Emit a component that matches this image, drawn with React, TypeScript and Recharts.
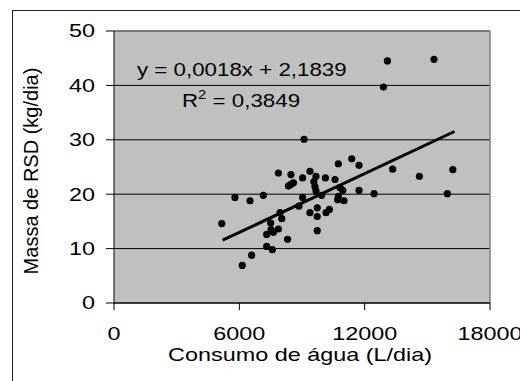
import React from 'react';
import {
  ScatterChart,
  Scatter,
  XAxis,
  YAxis,
  CartesianGrid,
  ReferenceLine,
} from 'recharts';

// consumo de água (L/dia) e massa de RSD (kg/dia)
const consumo = [
  5160, 5790, 6140, 6510, 6590, 7150, 7310, 7310, 7500, 7520, 7580, 7630, 7870, 7870,
  7950, 8030, 8310, 8350, 8460, 8590, 8470, 8850, 9030, 9030, 9100, 9380, 9380, 9570,
  9620, 9670, 9670, 9940, 9730, 9730, 9730, 10120, 10150, 10310, 10580, 10740, 10820,
  10950, 10740, 10710, 11010, 11380, 11730, 11730, 12450, 12900, 13090, 13340, 14620,
  15320, 15960, 16220,
];
const massa = [
  14.6, 19.4, 6.9, 18.8, 8.8, 19.8, 10.4, 12.6, 14.7, 13.5, 9.8, 13.0, 13.6, 23.9,
  16.6, 15.5, 11.7, 21.5, 21.8, 22.1, 23.6, 17.8, 19.4, 23.0, 30.1, 24.2, 16.6, 22.3,
  21.4, 23.3, 20.6, 19.8, 17.5, 15.9, 13.3, 23.0, 16.6, 17.2, 22.7, 25.6, 21.2,
  20.7, 19.6, 19.0, 18.8, 26.5, 25.3, 20.7, 20.1, 39.7, 44.5, 24.6, 23.3,
  44.8, 20.1, 24.5,
];

const xTicks = [0, 6000, 12000, 18000];
const yTicks = [0, 10, 20, 30, 40, 50];

// linha de tendência linear
const slope = 0.0018;
const intercept = 2.1839;
const trendX = [5200, 16300];

const points = consumo.map((x, i) => ({ x, y: massa[i] }));
const trend = trendX.map((x) => ({ x, y: slope * x + intercept }));

const FONT = "Arial, 'Liberation Sans', sans-serif";

const XTick = (props: any) => {
  const { x, y, payload } = props;
  return (
    <g transform={`translate(${x},${y})`}>
      <text textAnchor="middle" dy="0.71em" fontSize={18} fill="#000" fontFamily={FONT} transform="scale(1.3,1)">
        {payload.value}
      </text>
    </g>
  );
};

const YTick = (props: any) => {
  const { x, y, payload } = props;
  return (
    <g transform={`translate(${x},${y})`}>
      <text textAnchor="end" dy="0.355em" fontSize={18} fill="#000" fontFamily={FONT} transform="scale(1.3,1)">
        {payload.value}
      </text>
    </g>
  );
};

const Dot = (props: any) => <circle cx={props.cx} cy={props.cy} r={3.6} fill="#000" />;

const App = () => {
  return (
    <div style={{ position: 'absolute', left: 0, top: 0, width: 520, height: 381, background: '#fff' }}>
      <div
        style={{
          position: 'absolute',
          left: 12,
          top: 10,
          width: 520,
          height: 400,
          borderLeft: '1px solid #222',
          borderTop: '1px solid #222',
        }}
      />
      <ScatterChart width={520} height={381} margin={{ top: 31, right: 30, bottom: 48, left: 0 }}>
        <CartesianGrid vertical={false} stroke="#000" fill="#C0C0C0" fillOpacity={1} />
        <XAxis
          type="number"
          dataKey="x"
          domain={[0, 18000]}
          ticks={xTicks}
          interval={0}
          height={30}
          stroke="#000"
          tickSize={7}
          tickMargin={17}
          tick={<XTick />}
        />
        <YAxis
          type="number"
          dataKey="y"
          domain={[0, 50]}
          ticks={yTicks}
          interval={0}
          width={114}
          stroke="#000"
          tickSize={8}
          tickMargin={11}
          tick={<YTick />}
        />
        <ReferenceLine y={50} stroke="#808080" strokeWidth={1.5} />
        <ReferenceLine x={18000} stroke="#808080" strokeWidth={1.5} />
        <Scatter data={points} fill="#000" shape={<Dot />} isAnimationActive={false} />
        <Scatter
          data={trend}
          line={{ stroke: '#000', strokeWidth: 3 }}
          lineType="joint"
          shape={() => <g />}
          isAnimationActive={false}
        />
      </ScatterChart>
      <svg width={520} height={381} style={{ position: 'absolute', left: 0, top: 0, pointerEvents: 'none' }}>
        <g fontFamily={FONT} fill="#000">
          <text transform="translate(137,76) scale(1.24,1)" fontSize={18}>
            y = 0,0018x + 2,1839
          </text>
          <text transform="translate(182,107) scale(1.24,1)" fontSize={18}>
            R<tspan fontSize={12} dy={-8}>2</tspan>
            <tspan dy={8}> = 0,3849</tspan>
          </text>
          <text transform="translate(300,361) scale(1.3,1)" fontSize={18} textAnchor="middle">
            Consumo de água (L/dia)
          </text>
          <text transform="translate(38,171) rotate(-90)" fontSize={20} textAnchor="middle">
            Massa de RSD (kg/dia)
          </text>
        </g>
      </svg>
    </div>
  );
};

export default App;
